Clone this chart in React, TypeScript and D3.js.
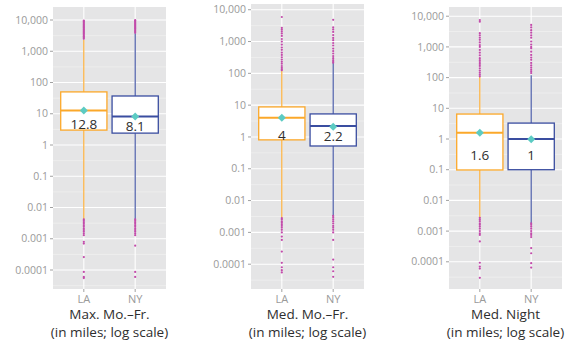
import React from 'react';
import * as d3 from 'd3';

const panelTitles = ['Max. Mo.–Fr.', 'Med. Mo.–Fr.', 'Med. Night'];
const subTitle = '(in miles; log scale)';
const cities = ['LA', 'NY'];

// axis limits per panel (log10 of bottom, top)
const yLimitsLog = [[-4.608, 4.416], [-4.78, 4.18], [-4.886, 4.30]];
const tickValues = [1e-4, 1e-3, 1e-2, 1e-1, 1, 10, 100, 1000, 10000];
const tickLabels = ['0.0001', '0.001', '0.01', '0.1', '1', '10', '100', '1,000', '10,000'];

const q1LA = [3.0, 0.81, 0.098];
const q1NY = [2.4, 0.52, 0.1];
const medLA = [12.8, 4.0, 1.6];
const medNY = [8.1, 2.2, 1.0];
const q3LA = [50, 8.8, 6.5];
const q3NY = [37, 5.3, 3.3];
const whiskLoLA = [0.0043, 0.0028, 0.0027];
const whiskLoNY = [0.0043, 0.0033, 0.0018];
const whiskHiLA = [2300, 118, 105];
const whiskHiNY = [3800, 210, 120];
const meanLA = [12.8, 4.0, 1.6];
const meanNY = [8.1, 2.1, 0.98];
const labelLA = ['12.8', '4', '1.6'];
const labelNY = ['8.1', '2.2', '1'];
const labelAtLA = [4.6, 1.12, 0.3];
const labelAtNY = [3.95, 1.04, 0.3];

const outLA1 = [2500, 2700, 2900, 3100, 3400, 3700, 4000, 4300, 4700, 5000, 5400, 5800, 6200, 6700, 7200, 7800, 8400, 9000, 9600,
  0.0042, 0.0038, 0.0034, 0.003, 0.0027, 0.0024, 0.0021, 0.0019, 0.0017, 0.0015, 0.0013, 0.0008, 0.0007, 0.00026, 0.000087, 0.00006, 0.000055];
const outNY1 = [3900, 4200, 4500, 4900, 5300, 5700, 6100, 6600, 7100, 7600, 8200, 8800, 9400, 9900,
  0.0042, 0.0038, 0.0034, 0.003, 0.0027, 0.0024, 0.0021, 0.0019, 0.0017, 0.0015, 0.0013, 0.0006, 0.000087, 0.00006];
const outLA2 = [5900, 2700, 2400, 2100, 1800, 1500, 1200, 1000, 800, 650, 550, 450, 380, 320, 270, 230, 200, 170, 150, 135, 125,
  0.0028, 0.0025, 0.0022, 0.002, 0.0018, 0.0016, 0.0014, 0.0012, 0.001, 0.00074, 0.00058, 0.00025, 0.00011, 0.00008, 0.000065, 0.000055];
const outNY2 = [4800, 2800, 2400, 2000, 1600, 1300, 1100, 900, 750, 600, 500, 420, 350, 300, 260, 230, 215,
  0.0033, 0.0029, 0.0025, 0.0022, 0.0019, 0.0016, 0.0014, 0.0012, 0.001, 0.00058, 0.00014, 0.00008, 0.00006, 0.00004];
const outLA3 = [7500, 6600, 2800, 2400, 2000, 1700, 1400, 1150, 1000, 800, 650, 530, 430, 370, 320, 280, 240, 200, 170, 145, 125, 110,
  0.0027, 0.0024, 0.0021, 0.0018, 0.0016, 0.0014, 0.0012, 0.001, 0.00085, 0.00075, 0.00046, 0.000093, 0.00007, 0.00006, 0.00003];
const outNY3 = [5200, 4300, 3500, 2900, 2400, 2000, 1500, 1200, 1000, 900, 700, 550, 450, 380, 300, 250, 210, 180, 160, 140,
  0.0018, 0.0016, 0.0014, 0.0012, 0.001, 0.00085, 0.00075, 0.00064, 0.00028, 0.00019, 0.00009, 0.000065];

const outliersLA = [outLA1, outLA2, outLA3];
const outliersNY = [outNY1, outNY2, outNY3];

const W = 576;
const H = 341;
const panelLeft = [53, 251, 449];
const panelTop = [7, 4, 7];
const panelWidth = 113;
const panelBottom = 289;
const cityColor = { LA: '#FBA82A', NY: '#3A4DA0' };
const outlierColor = '#C24BAA';
const meanColor = '#5CCBC3';
const font = '"Open Sans", "Noto Sans", sans-serif';

function Panel({ i }: { i: number }) {
  const left = panelLeft[i];
  const top = panelTop[i];
  const x = d3.scalePoint<string>().domain(cities).range([left, left + panelWidth]).padding(0.6);
  const y = d3.scaleLog().domain([Math.pow(10, yLimitsLog[i][0]), Math.pow(10, yLimitsLog[i][1])]).range([panelBottom, top]);
  const step = x.step();
  const bw = step * 0.9;
  const minor = tickValues.map(v => v * Math.sqrt(10)).concat([tickValues[0] / Math.sqrt(10)])
    .filter(v => y(v) >= top && y(v) <= panelBottom);
  const stats = cities.map(c => c === 'LA'
    ? { c, q1: q1LA[i], med: medLA[i], q3: q3LA[i], lo: whiskLoLA[i], hi: whiskHiLA[i], mean: meanLA[i], label: labelLA[i], at: labelAtLA[i], out: outliersLA[i] }
    : { c, q1: q1NY[i], med: medNY[i], q3: q3NY[i], lo: whiskLoNY[i], hi: whiskHiNY[i], mean: meanNY[i], label: labelNY[i], at: labelAtNY[i], out: outliersNY[i] });
  const cx = left + panelWidth / 2;
  return (
    <g>
      <rect x={left} y={top} width={panelWidth} height={panelBottom - top} fill="#E5E5E6" />
      {minor.map((v, k) => (
        <line key={'mn' + k} x1={left} x2={left + panelWidth} y1={y(v)} y2={y(v)} stroke="#F3F3F3" strokeWidth={0.6} />
      ))}
      {tickValues.map((v, k) => (
        <line key={'mj' + k} x1={left} x2={left + panelWidth} y1={y(v)} y2={y(v)} stroke="#FFFFFF" strokeWidth={1.1} />
      ))}
      {cities.map(c => (
        <line key={'vx' + c} x1={x(c)} x2={x(c)} y1={top} y2={panelBottom} stroke="#FFFFFF" strokeWidth={1.1} />
      ))}
      {tickValues.map((v, k) => (
        <g key={'t' + k}>
          <line x1={left - 3} x2={left} y1={y(v)} y2={y(v)} stroke="#A0A0A0" strokeWidth={1} />
          <text x={left - 5} y={y(v)} dy="0.35em" textAnchor="end" fontSize={10.5} fill="#9A9A9A" fontFamily={font}>{tickLabels[k]}</text>
        </g>
      ))}
      {stats.map(s => {
        const xc = x(s.c) as number;
        const col = (cityColor as any)[s.c];
        return (
          <g key={s.c}>
            <line x1={xc} x2={xc} y1={y(s.hi)} y2={y(s.q3)} stroke={col} strokeWidth={1.1} />
            <line x1={xc} x2={xc} y1={y(s.q1)} y2={y(s.lo)} stroke={col} strokeWidth={1.1} />
            <rect x={xc - bw / 2} y={y(s.q3)} width={bw} height={y(s.q1) - y(s.q3)} fill="#FFFFFF" stroke={col} strokeWidth={1.3} />
            <line x1={xc - bw / 2} x2={xc + bw / 2} y1={y(s.med)} y2={y(s.med)} stroke={col} strokeWidth={2} />
            {s.out.map((v, k) => (
              <circle key={k} cx={xc} cy={y(v)} r={1.1} fill={outlierColor} />
            ))}
            <path d={`M${xc},${y(s.mean) - 4}L${xc + 4},${y(s.mean)}L${xc},${y(s.mean) + 4}L${xc - 4},${y(s.mean)}Z`} fill={meanColor} />
            <text x={xc} y={y(s.at)} dy="0.36em" textAnchor="middle" fontSize={13.5} fill="#2E2E2E" fontFamily={font}>{s.label}</text>
            <line x1={xc} x2={xc} y1={panelBottom} y2={panelBottom + 3} stroke="#A0A0A0" strokeWidth={1} />
            <text x={xc} y={panelBottom + 10} dy="0.35em" textAnchor="middle" fontSize={11} fill="#9A9A9A" fontFamily={font}>{s.c}</text>
          </g>
        );
      })}
      <text x={cx} y={318.5} textAnchor="middle" fontSize={13.5} fill="#2E2E2E" fontFamily={font}>{panelTitles[i]}</text>
      <text x={cx} y={336.5} textAnchor="middle" fontSize={13.5} fill="#2E2E2E" fontFamily={font}>{subTitle}</text>
    </g>
  );
}

export default function App() {
  return (
    <svg width={W} height={H} style={{ position: 'absolute', left: 0, top: 0, background: '#FFFFFF' }}>
      {[0, 1, 2].map(i => <Panel key={i} i={i} />)}
    </svg>
  );
}
